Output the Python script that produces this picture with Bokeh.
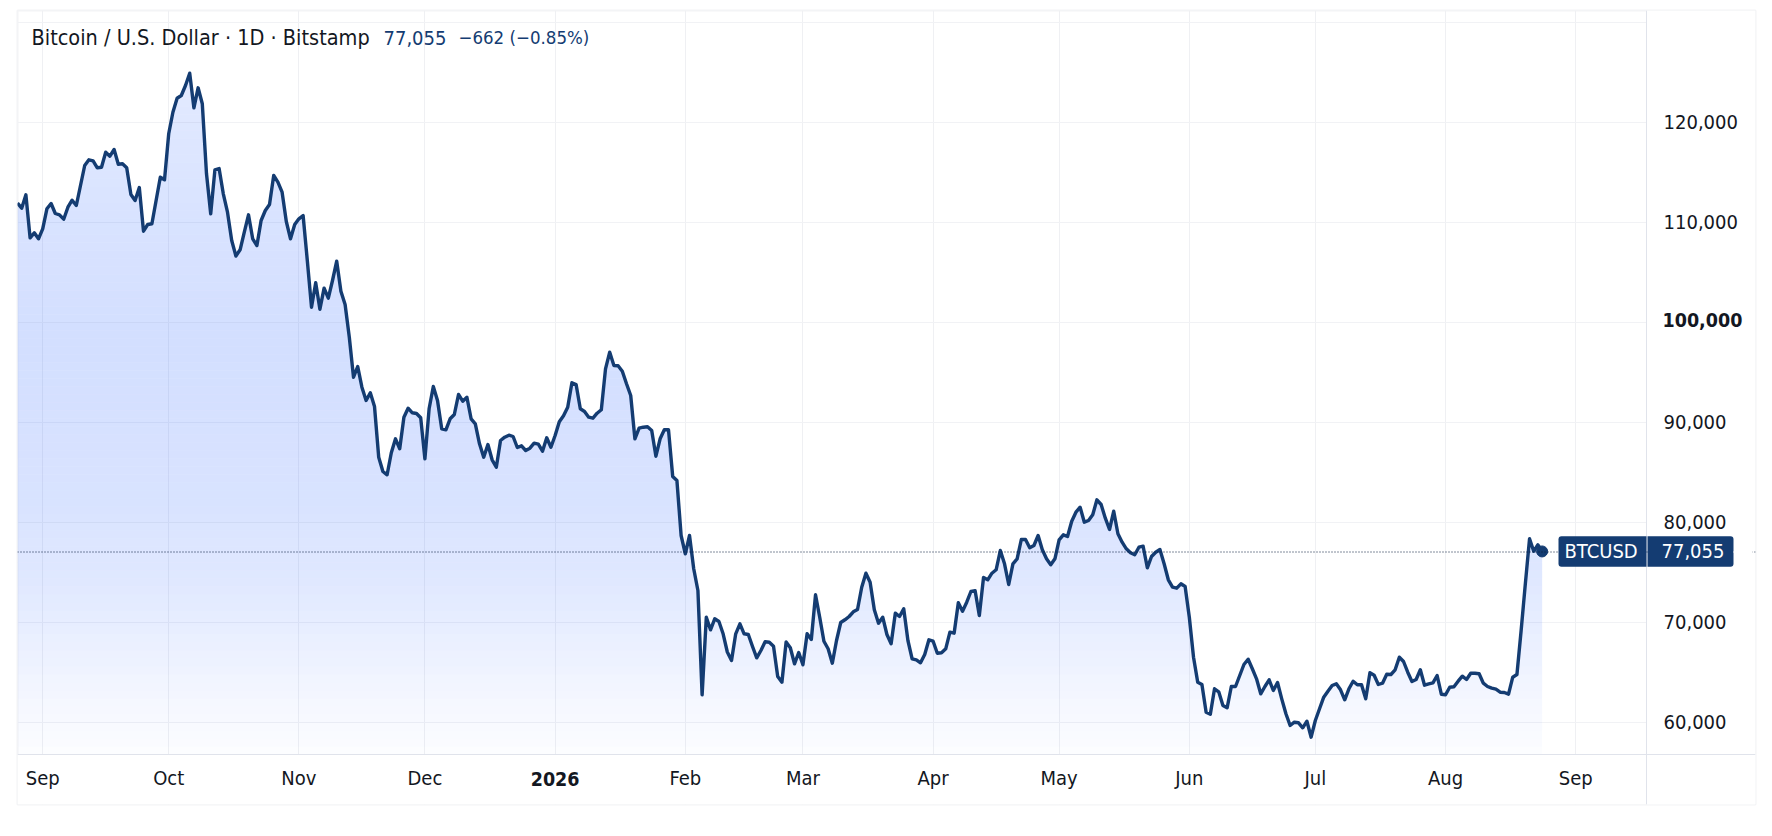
import numpy as np
from bokeh.plotting import figure
from bokeh.models import Range1d, FixedTicker, Label, BoxAnnotation, Span
from bokeh.embed import file_html
from bokeh.resources import INLINE

btc_close = [
    111880,111380,112720,108420,108920,108320,
    109320,111320,111850,110850,110720,110280,111480,112180,111650,113650,
    115650,116220,116120,115420,115480,116980,116580,117250,115780,115820,
    115420,112750,112150,113450,109080,109750,109820,112150,114480,114220,
    118820,120980,122380,122650,123650,124880,121420,123420,121820,114820,
    110820,115220,115350,112820,110980,108150,106600,107220,108980,110720,
    108320,107650,110150,111150,111750,114650,113980,112980,110050,108320,
    109750,110320,110650,106150,101480,103920,101280,103380,102380,104150,
    106080,103080,101750,98480,94480,95550,93480,92150,92920,91550,
    86480,85050,84720,86920,88320,87320,90480,91380,90920,90850,
    90420,86320,91320,93550,92150,89320,89220,90320,90750,92750,
    92080,92480,90320,89820,87820,86480,87750,86220,85480,88150,
    88480,88680,88550,87450,87620,87150,87380,87880,87780,87080,
    88420,87480,88650,90020,90620,91480,93920,93750,91320,91050,
    90480,90380,90880,91220,95320,96980,95650,95620,95080,93820,
    92650,88320,89380,89480,89520,89150,86580,88320,89220,89220,
    84550,84150,78650,76820,78650,75320,73150,62720,70480,69220,
    70320,70050,68820,67000,66150,68820,69820,68820,68750,67550,
    66420,67150,68020,67980,67580,64550,63980,68000,67420,65820,
    66950,65720,68820,68250,72720,70480,68080,67320,65880,68150,
    69950,70220,70550,71020,71250,73480,74880,73980,71220,69880,
    70480,68750,67820,70880,70550,71320,68150,66320,66220,65920,
    66750,68220,68080,66880,66920,67320,68980,68880,71920,71080,
    71980,73050,73120,70650,74450,74220,74880,75220,77150,75820,
    73750,75820,76320,78250,78250,77420,77650,78650,77220,76320,
    75720,76320,78220,78720,78550,80080,80980,81480,79980,80150,
    80720,82220,81750,80380,79250,81080,78820,77980,77320,76920,
    76720,77480,77580,75420,76550,76980,77250,75820,74220,73480,
    73380,73820,73550,70480,66480,63980,63750,60980,60780,63320,
    63020,61650,61420,63550,63550,64650,65750,66280,65320,64320,
    62820,63550,64220,63150,63950,62320,60820,59650,59980,59920,
    59420,60080,58480,60150,61320,62480,63080,63650,63820,63220,
    62220,63320,64080,63720,63720,62320,64920,64680,63750,63880,
    64780,64750,65220,66480,66050,64980,64050,64250,65220,63680,
    63820,63920,64650,62780,62720,63480,63520,64080,64580,64250,
    64880,64880,64820,63880,63550,63380,63280,62980,62950,62780,
    64480,64750,69150,73820,78320,77080,77720,77055,
]
assert len(btc_close) == 364
first_day = -6  # days relative to 1 Sep 2025
month_days = [0, 30, 61, 91, 122, 153, 181, 212, 242, 273, 303, 334, 365]
month_labels = ["Sep", "Oct", "Nov", "Dec", "2026", "Feb", "Mar", "Apr", "May", "Jun", "Jul", "Aug", "Sep"]
price_ticks = [60000, 70000, 80000, 90000, 100000, 110000, 120000]
grid_ticks = price_ticks + [130000]
last_price = 77055

NAVY = "#143c72"
INK = "#131722"
FONT = "DejaVu Sans Condensed"
FS = "20px"
XL, XR = -6.0, 407.8         # whole pane, scale edge at SCALE_X
YB, YT = 51750, 131150       # whole pane, time axis at TIME_Y
SCALE_X = 381.86
TIME_Y = 56750

days = np.arange(first_day, first_day + len(btc_close))
close = np.array(btc_close, dtype=float)

p = figure(output_backend="svg", toolbar_location=None,
           frame_width=1738, frame_height=794,
           x_range=Range1d(XL, XR), y_range=Range1d(YB, YT),
           min_border_left=17, min_border_top=10, min_border_right=15, min_border_bottom=14,
           y_axis_location="right", background_fill_color="white",
           outline_line_color="#f3f4f6", outline_line_width=2)

# gridlines, covered outside the chart pane
p.xgrid.ticker = FixedTicker(ticks=month_days)
p.ygrid.ticker = FixedTicker(ticks=grid_ticks)
p.xgrid.grid_line_color = "#eff0f3"
p.ygrid.grid_line_color = "#f1f2f5"
p.xgrid.level = "underlay"
p.ygrid.level = "underlay"
p.add_layout(BoxAnnotation(left=SCALE_X, right=XR, bottom=YB, top=YT, fill_color="white", fill_alpha=1,
                           line_color=None, level="underlay"))
p.add_layout(BoxAnnotation(left=XL, right=XR, bottom=YB, top=TIME_Y, fill_color="white", fill_alpha=1,
                           line_color=None, level="underlay"))

# area with a vertical gradient, drawn as thin bands
edges = np.arange(TIME_Y, 126000, 800)
stop_p = [56750, 62150, 67150, 74150, 82150, 98150, 112150, 125150]
stop_a = [0.015, 0.05, 0.09, 0.145, 0.18, 0.205, 0.175, 0.13]
for lo, hi in zip(edges[:-1], edges[1:]):
    a = float(np.interp((lo + hi) / 2, stop_p, stop_a))
    y1, y2 = np.minimum(close, lo), np.minimum(close, hi)
    p.varea(days, y1, y2, fill_color="#2962ff", fill_alpha=a)

p.line(days, close, line_color=NAVY, line_width=3.4, line_join="round")
p.scatter(days[-1:], close[-1:], size=11, color=NAVY)

# axes placed at fixed spots inside the pane
xa = p.xaxis[0]
xa.fixed_location = TIME_Y
xa.ticker = FixedTicker(ticks=month_days)
xa.major_label_overrides = {d: ("" if l == "2026" else l) for d, l in zip(month_days, month_labels)}
xa.major_tick_line_color = None
xa.minor_tick_line_color = None
xa.axis_line_color = "#e0e3eb"
xa.major_label_text_font = FONT
xa.major_label_text_font_size = FS
xa.major_label_text_color = INK
xa.major_label_standoff = 5

ya = p.yaxis[0]
ya.fixed_location = SCALE_X
ya.ticker = FixedTicker(ticks=price_ticks)
ya.major_label_overrides = {t: ("" if t == 100000 else f"{t:,}") for t in price_ticks}
ya.major_tick_line_color = None
ya.minor_tick_line_color = None
ya.axis_line_color = "#e0e3eb"
ya.major_label_text_font = FONT
ya.major_label_text_font_size = FS
ya.major_label_text_color = INK
ya.major_label_standoff = 11


def text(x, y, s, color=INK, bold=False, x_units="canvas", align="left", size=FS):
    p.add_layout(Label(x=x, y=y, x_units=x_units, y_units="canvas", text=s, text_font=FONT,
                       text_font_size=size, text_color=color, text_align=align, text_baseline="middle",
                       text_font_style="bold" if bold else "normal"))


# price tag and its dotted line (the line is snapped to a pixel row)
tag_kw = dict(bottom=last_price - 1530, top=last_price + 1530, left_units="canvas", right_units="canvas",
              fill_color=NAVY, fill_alpha=1, line_color=None)
p.add_layout(Span(location=last_price - 55, dimension="width", line_color="#06183a", line_width=1, line_dash="1 2"))
p.add_layout(BoxAnnotation(left=1558, right=1646, border_radius=dict(top_left=3, bottom_left=3, top_right=0, bottom_right=0), **tag_kw))
p.add_layout(BoxAnnotation(left=1647, right=1733, border_radius=dict(top_left=0, bottom_left=0, top_right=3, bottom_right=3), **tag_kw))
p.add_layout(BoxAnnotation(left=1733, right=1752, bottom=last_price - 150, top=last_price + 50,
                           left_units="canvas", right_units="canvas", fill_color="white", fill_alpha=1, line_color=None))

# texts
text(31, 37, "Bitcoin / U.S. Dollar · 1D · Bitstamp", size="21.5px")
text(383, 37, "77,055", NAVY)
text(458, 37, "−662", NAVY, size="18.5px")
text(509, 37, "(−0.85%)", NAVY, size="18.5px")
text(1662, 319.5, "100,000", bold=True, size="19.5px")
text(122, 778, "2026", bold=True, x_units="data", align="center", size="19.5px")
text(1564, 550, "BTCUSD", "white")
text(1661, 550, "77,055", "white")

open("out.html", "w").write(file_html(p, INLINE))
